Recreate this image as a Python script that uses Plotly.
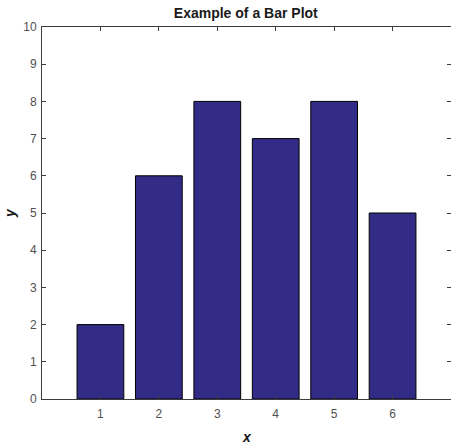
import plotly.graph_objects as go

categories = [1, 2, 3, 4, 5, 6]
values = [2, 6, 8, 7, 8, 5]
y_ticks = list(range(0, 11))

fig = go.Figure()
fig.add_trace(go.Bar(
    x=categories, y=values, width=0.8,
    marker=dict(color="#332c86", line=dict(color="#000000", width=1)),
))

axis_common = dict(
    showline=True, linecolor="#3c3c3c", linewidth=1,
    ticks="inside", ticklen=4, tickcolor="#3c3c3c", mirror="ticks",
    showgrid=False, zeroline=False, automargin=False,
    tickfont=dict(family="Liberation Sans, Arial", size=12, color="#505050"),
)

fig.update_layout(
    width=451, height=444,
    margin=dict(l=42, r=0, t=27, b=45, autoexpand=False),
    paper_bgcolor="white", plot_bgcolor="white",
    title=dict(text="<b>Example of a Bar Plot</b>", x=0.545, xanchor="center",
               y=1 - 13 / 444, yanchor="middle", automargin=False,
               font=dict(family="Liberation Sans, Arial", size=14, color="#1a1a1a")),
    xaxis=dict(range=[0, 7], tickvals=categories, ticklabelstandoff=4, **axis_common),
    yaxis=dict(range=[0, 10], tickvals=y_ticks, ticklabelstandoff=2, **axis_common),
    showlegend=False,
    bargap=0.2,
    annotations=[
        dict(text="<b><i>x</i></b>", xref="paper", yref="paper", x=0.5, y=-38 / 372,
             xanchor="center", yanchor="middle", showarrow=False,
             font=dict(family="Liberation Sans, Arial", size=14, color="#1a1a1a")),
        dict(text="<b><i>y</i></b>", xref="paper", yref="paper", x=-32 / 409, y=0.5,
             xanchor="center", yanchor="middle", showarrow=False, textangle=-90,
             font=dict(family="Liberation Sans, Arial", size=14, color="#1a1a1a")),
    ],
)

fig.write_html(
    "out.html",
    config={"displayModeBar": False},
    post_script="document.body.style.margin='0';document.body.style.overflow='hidden';",
)
